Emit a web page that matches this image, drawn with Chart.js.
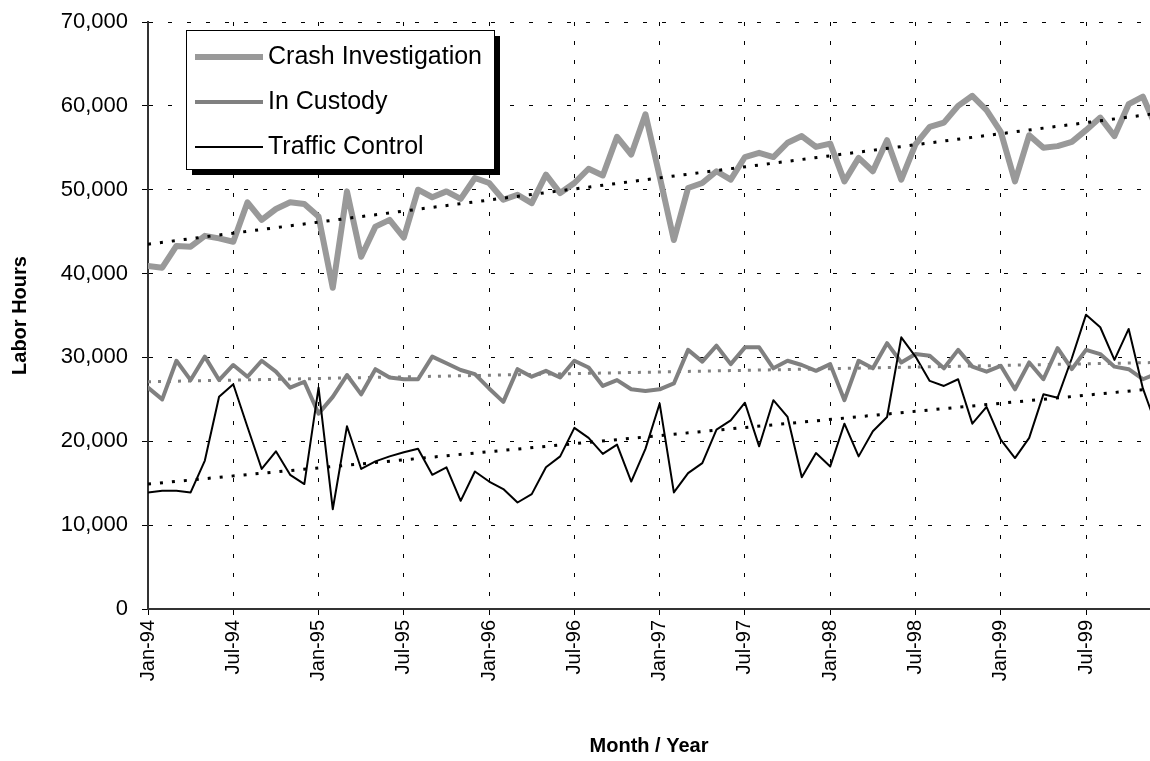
<!DOCTYPE html>
<html>
<head>
<meta charset="utf-8">
<script src="https://cdn.jsdelivr.net/npm/chart.js@4.4.0/dist/chart.umd.min.js"></script>
<style>
  html, body { margin: 0; padding: 0; background: #fff; }
</style>
</head>
<body>
<canvas id="laborChart" width="1150" height="761"></canvas>
<script>
// Series names (legend order)
const seriesNames = ['Crash Investigation', 'In Custody', 'Traffic Control'];

// X tick labels, one every 6 months starting Jan-94
const tickLabels = ['Jan-94', 'Jul-94', 'Jan-95', 'Jul-95', 'Jan-96', 'Jul-96',
                    'Jan-97', 'Jul-97', 'Jan-98', 'Jul-98', 'Jan-99', 'Jul-99'];

// Monthly labor hours, Jan-94 .. Dec-99
const crashHours = [
    40900, 40700, 43300, 43200, 44500, 44200, 43800, 48500, 46400, 47700, 48500, 48300,
    46800, 38300, 49800, 42000, 45600, 46400, 44300, 50000, 49100, 49800, 48900, 51400,
    50800, 48800, 49400, 48400, 51800, 49600, 50800, 52500, 51700, 56300, 54200, 59000,
    51600, 44000, 50200, 50800, 52200, 51200, 53900, 54400, 53900, 55600, 56400, 55100,
    55500, 51000, 53800, 52200, 55900, 51200, 55400, 57500, 58000, 60000, 61200, 59500,
    56900, 51000, 56500, 55000, 55200, 55700, 57100, 58600, 56400, 60200, 61100, 57200
];
const custodyHours = [
    26400, 25000, 29600, 27300, 30100, 27300, 29100, 27700, 29600, 28300, 26400, 27100,
    23300, 25300, 27900, 25600, 28600, 27600, 27400, 27400, 30100, 29300, 28500, 28000,
    26300, 24700, 28600, 27700, 28400, 27600, 29600, 28800, 26600, 27300, 26200, 26000,
    26200, 26900, 30900, 29500, 31400, 29200, 31200, 31200, 28700, 29600, 29100, 28400,
    29200, 24900, 29600, 28700, 31700, 29400, 30400, 30200, 28700, 30900, 28900, 28300,
    29000, 26200, 29400, 27400, 31100, 28600, 30900, 30400, 28900, 28600, 27400, 28100
];
const trafficHours = [
    13900, 14100, 14100, 13900, 17700, 25300, 26800, 21700, 16700, 18800, 16000, 14900,
    26400, 11900, 21800, 16700, 17600, 18200, 18700, 19100, 16000, 16900, 12900, 16400,
    15200, 14300, 12700, 13700, 16900, 18200, 21600, 20400, 18500, 19600, 15200, 19100,
    24500, 13900, 16200, 17400, 21400, 22500, 24600, 19400, 24900, 22900, 15700, 18600,
    17000, 22100, 18200, 21200, 22900, 32400, 30100, 27200, 26600, 27400, 22100, 24100,
    20200, 18000, 20400, 25600, 25200, 29900, 35100, 33600, 29700, 33400, 26300, 21600
];

// Linear trend lines: value at first month and at last month
const crashTrend = [43500, 59100];
const custodyTrend = [27100, 29400];
const trafficTrend = [14900, 26300];

const toPoints = values => values.map((v, i) => ({ x: i, y: v }));
const trendPoints = ends => [{ x: 0, y: ends[0] }, { x: crashHours.length - 1, y: ends[1] }];

const FONT = '"Liberation Sans", Arial, sans-serif';

// Boxed legend with drop shadow, drawn inside the plot (top left)
const boxLegend = {
    id: 'boxLegend',
    afterDraw(chart) {
        const { ctx, chartArea } = chart;
        const left = chartArea.left + 38;
        const top = chartArea.top + 8;
        const width = 308, height = 139, shadow = 6;

        ctx.save();
        ctx.fillStyle = '#000';
        ctx.fillRect(left + shadow, top + shadow, width, height);
        ctx.fillStyle = '#fff';
        ctx.fillRect(left, top, width, height);
        ctx.strokeStyle = '#000';
        ctx.lineWidth = 1;
        ctx.strokeRect(left + 0.5, top + 0.5, width, height);

        ctx.font = '25px ' + FONT;
        ctx.textBaseline = 'middle';
        ctx.textAlign = 'left';
        seriesNames.forEach((name, i) => {
            const ds = chart.data.datasets[i];
            const y = top + 27 + i * 45;
            ctx.strokeStyle = ds.borderColor;
            ctx.lineWidth = ds.borderWidth;
            ctx.lineCap = 'butt';
            ctx.beginPath();
            ctx.moveTo(left + 9, y);
            ctx.lineTo(left + 77, y);
            ctx.stroke();
            ctx.fillStyle = '#000';
            ctx.fillText(name, left + 82, y);
        });
        ctx.restore();
    }
};

const ctx = document.getElementById('laborChart').getContext('2d');
window.laborChart = new Chart(ctx, {
    type: 'line',
    data: {
        datasets: [
            { label: seriesNames[0], data: toPoints(crashHours), borderColor: '#999999', borderWidth: 6, order: 3 },
            { label: seriesNames[1], data: toPoints(custodyHours), borderColor: '#808080', borderWidth: 4, order: 2 },
            { label: seriesNames[2], data: toPoints(trafficHours), borderColor: '#000000', borderWidth: 2, order: 1 },
            // trend lines (dotted)
            { label: 'Crash trend', data: trendPoints(crashTrend), borderColor: '#000000', borderWidth: 3,
              borderDash: [3, 9], borderCapStyle: 'butt', order: 0 },
            { label: 'Custody trend', data: trendPoints(custodyTrend), borderColor: '#808080', borderWidth: 3,
              borderDash: [3, 7], borderCapStyle: 'butt', order: 0 },
            { label: 'Traffic trend', data: trendPoints(trafficTrend), borderColor: '#000000', borderWidth: 3,
              borderDash: [3, 9], borderCapStyle: 'butt', order: 0 }
        ]
    },
    options: {
        responsive: false,
        animation: false,
        devicePixelRatio: 1,
        elements: {
            point: { radius: 0, hoverRadius: 0 },
            line: { tension: 0, fill: false, borderJoinStyle: 'round', borderCapStyle: 'round' }
        },
        layout: { padding: { top: 22, right: 0, bottom: 0, left: 0 } },
        plugins: {
            legend: { display: false },
            tooltip: { enabled: false }
        },
        scales: {
            x: {
                type: 'linear',
                bounds: 'data',
                min: 0,
                max: 70.5,
                afterFit: scale => { scale.height = 152; },
                ticks: {
                    stepSize: 6,
                    includeBounds: false,
                    autoSkip: false,
                    minRotation: 90,
                    maxRotation: 90,
                    padding: 5,
                    color: '#000',
                    font: { family: FONT, size: 20 },
                    callback: value => tickLabels[value / 6] ?? ''
                },
                grid: { color: '#000', lineWidth: 1, tickLength: 6, tickColor: '#000' },
                border: { display: true, color: '#333', width: 2, dash: [4, 15] },
                title: {
                    display: true,
                    text: 'Month / Year',
                    color: '#000',
                    font: { family: FONT, size: 20, weight: 'bold' },
                    padding: { top: 0, bottom: 3 }
                }
            },
            y: {
                min: 0,
                max: 70000,
                afterFit: scale => {
                    scale.width = 148;
                    // let layout padding alone decide the plot top
                    scale.paddingTop = 0;
                    scale.paddingBottom = 0;
                },
                ticks: {
                    stepSize: 10000,
                    padding: 14,
                    color: '#000',
                    font: { family: FONT, size: 22 },
                    callback: value => value.toLocaleString('en-US')
                },
                grid: { color: '#000', lineWidth: 1, tickLength: 6, tickColor: '#000' },
                border: { display: true, color: '#333', width: 2, dash: [4, 15] },
                title: {
                    display: true,
                    text: 'Labor Hours',
                    color: '#000',
                    font: { family: FONT, size: 20, weight: 'bold' },
                    padding: { top: 8, bottom: 0 }
                }
            }
        }
    },
    plugins: [boxLegend]
});
</script>
</body>
</html>
